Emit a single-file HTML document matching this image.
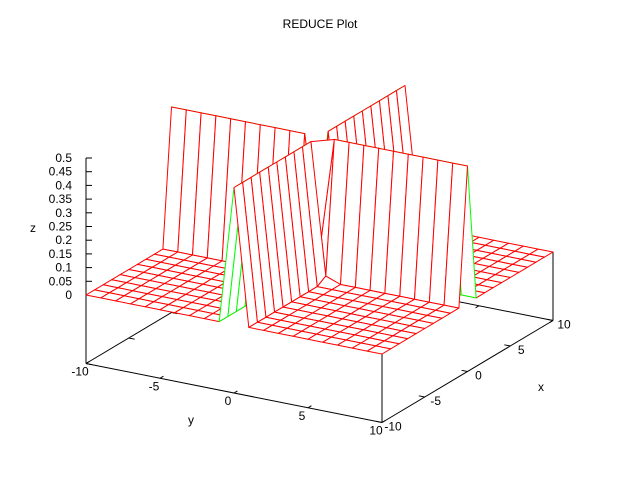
<!DOCTYPE html>
<html><head><meta charset="utf-8"><style>
html,body{margin:0;padding:0;background:#fff;}
svg{display:block;font-family:"Liberation Sans",sans-serif;font-size:12px;}
</style></head><body>
<svg id="chart" width="640" height="480" viewBox="0 0 640 480" xmlns="http://www.w3.org/2000/svg">
<rect width="640" height="480" fill="#fff"/>
<text x="320" y="28" text-anchor="middle" font-size="12">REDUCE Plot</text>
<g id="axes"></g>
<g id="surface"></g>
<g id="labels"></g>
</svg>
<script>
var xTicks = [-10, -5, 0, 5, 10];
var yTicks = [-10, -5, 0, 5, 10];
var zTicks = [0, 0.05, 0.1, 0.15, 0.2, 0.25, 0.3, 0.35, 0.4, 0.45, 0.5];
var zTickLabels = ["0","0.05","0.1","0.15","0.2","0.25","0.3","0.35","0.4","0.45","0.5"];
var gridN = 21;
var zGrid = [
[0,0,0,0,0,0,0,0,0,0,.5,0,0,0,0,0,0,0,0,0,0],
[0,0,0,0,0,0,0,0,0,0,.5,0,0,0,0,0,0,0,0,0,0],
[0,0,0,0,0,0,0,0,0,0,.5,0,0,0,0,0,0,0,0,0,0],
[0,0,0,0,0,0,0,0,0,0,.5,0,0,0,0,0,0,0,0,0,0],
[0,0,0,0,0,0,0,0,0,0,.5,0,0,0,0,0,0,0,0,0,0],
[0,0,0,0,0,0,0,0,0,0,.5,0,0,0,0,0,0,0,0,0,0],
[0,0,0,0,0,0,0,0,0,0,.5,0,0,0,0,0,0,0,0,0,0],
[0,0,0,0,0,0,0,0,0,0,.5,0,0,0,0,0,0,0,0,0,0],
[0,0,0,0,0,0,0,0,0,0,.5,0,0,0,0,0,0,0,0,0,0],
[0,0,0,0,0,0,0,0,0,.02,.5,.02,0,0,0,0,0,0,0,0,0],
[.5,.5,.5,.5,.5,.5,.5,.5,.5,.5,.08,.5,.5,.5,.5,.5,.5,.5,.5,.5,.5],
[0,0,0,0,0,0,0,0,0,.02,.5,.02,0,0,0,0,0,0,0,0,0],
[0,0,0,0,0,0,0,0,0,0,.5,0,0,0,0,0,0,0,0,0,0],
[0,0,0,0,0,0,0,0,0,0,.5,0,0,0,0,0,0,0,0,0,0],
[0,0,0,0,0,0,0,0,0,0,.5,0,0,0,0,0,0,0,0,0,0],
[0,0,0,0,0,0,0,0,0,0,.5,0,0,0,0,0,0,0,0,0,0],
[0,0,0,0,0,0,0,0,0,0,.5,0,0,0,0,0,0,0,0,0,0],
[0,0,0,0,0,0,0,0,0,0,.5,0,0,0,0,0,0,0,0,0,0],
[0,0,0,0,0,0,0,0,0,0,.5,0,0,0,0,0,0,0,0,0,0],
[0,0,0,0,0,0,0,0,0,0,.5,0,0,0,0,0,0,0,0,0,0],
[0,0,0,0,0,0,0,0,0,0,.5,0,0,0,0,0,0,0,0,0,0]
];
var NS = "http://www.w3.org/2000/svg";
var zBase = -0.25;
function proj(x, y, z) {
  var u = (x + 10) / 20, v = (y + 10) / 20;
  return [86 + u * 171 + v * 296, 295 - u * 102 + v * 59 - z * 274];
}
function gv(i) { return -10 + 20 * i / (gridN - 1); }
function mk(tag, attrs, parent) {
  var e = document.createElementNS(NS, tag);
  for (var k in attrs) e.setAttribute(k, attrs[k]);
  parent.appendChild(e);
  return e;
}
var axes = document.getElementById('axes');
var surf = document.getElementById('surface');
var labs = document.getElementById('labels');
function line(p, q, parent, name, color) {
  var l = mk('line', {x1: p[0], y1: p[1], x2: q[0], y2: q[1], stroke: color || '#000', 'stroke-width': 1}, parent);
  
  
  return l;
}
function ptsStr(pts) { return pts.map(function (p) { return p[0].toFixed(1) + ',' + p[1].toFixed(1); }).join(' '); }
var c00 = proj(-10, -10, zBase), c10 = proj(10, -10, zBase), c11 = proj(10, 10, zBase), c01 = proj(-10, 10, zBase);
line(c00, c10, axes, 'base-back-left-edge');
line(c10, c11, axes, 'base-back-right-edge');
line(c00, c01, axes, 'y-axis-line');
line(c01, c11, axes, 'x-axis-line');
line(c00, proj(-10, -10, 0.5), axes, 'z-axis-line');
line(c01, proj(-10, 10, 0), axes, 'front-vertical-edge');
line(c11, proj(10, 10, 0), axes, 'right-vertical-edge');
zTicks.forEach(function (t, k) {
  var p = proj(-10, -10, t);
  line(p, [p[0] + 6, p[1]], axes, 'z-tick');
  var tx = mk('text', {x: p[0] - 14, y: p[1] + 4, 'text-anchor': 'end'}, labs);
  tx.textContent = zTickLabels[k];
  
  
});
yTicks.forEach(function (t) {
  var p = proj(-10, t, zBase), q = proj(-9.6, t, zBase);
  line(p, q, axes, 'y-tick');
  var p2 = proj(10, t, zBase), q2 = proj(9.6, t, zBase);
  line(p2, q2, axes, 'y-tick-back');
  var tx = mk('text', {x: p[0] - 6, y: p[1] + 12, 'text-anchor': 'middle'}, labs);
  tx.textContent = String(t);
  
  
});
xTicks.forEach(function (t) {
  var p = proj(t, 10, zBase), q = proj(t, 9.6, zBase);
  line(p, q, axes, 'x-tick');
  var p2 = proj(t, -10, zBase), q2 = proj(t, -9.6, zBase);
  line(p2, q2, axes, 'x-tick-back');
  var tx = mk('text', {x: p[0] + 11, y: p[1] + 8, 'text-anchor': 'middle'}, labs);
  tx.textContent = String(t);
  
  
});
var xl = mk('text', {x: 541, y: 391, 'text-anchor': 'middle'}, labs); xl.textContent = 'x';


var yl = mk('text', {x: 191, y: 424, 'text-anchor': 'middle'}, labs); yl.textContent = 'y';


var zl = mk('text', {x: 33, y: 232, 'text-anchor': 'middle'}, labs); zl.textContent = 'z';


var cells = [];
for (var i = 0; i < gridN - 1; i++) for (var j = 0; j < gridN - 1; j++) {
  var xc = (gv(i) + gv(i + 1)) / 2, yc = (gv(j) + gv(j + 1)) / 2;
  cells.push({i: i, j: j, d: 5.1 * xc - 2.95 * yc});
}
cells.sort(function (a, b) { return b.d - a.d; });
var mid = (gridN - 1) / 2;
cells.forEach(function (c) {
  var i = c.i, j = c.j;
  var a = proj(gv(i), gv(j), zGrid[i][j]);
  var b = proj(gv(i + 1), gv(j), zGrid[i + 1][j]);
  var d = proj(gv(i + 1), gv(j + 1), zGrid[i + 1][j + 1]);
  var e = proj(gv(i), gv(j + 1), zGrid[i][j + 1]);
  var pts = [a, b, d, e];
  var area = 0;
  for (var k = 0; k < 4; k++) { var p = pts[k], q = pts[(k + 1) % 4]; area += p[0] * q[1] - q[0] * p[1]; }
  var col = area < 0 ? '#00ff00' : '#ff0000';
  var poly = mk('polygon', {points: ptsStr(pts), fill: '#fff', stroke: col, 'stroke-width': 1, 'stroke-linejoin': 'round'}, surf);
  
  
  if (i === mid - 1 && j === mid) {
    // triangulated top of the centre cell (ridge junction)
    var tri = mk('polygon', {points: ptsStr([a, b, d]), fill: '#fff', stroke: 'none'}, surf);
    
    
    line(a, d, surf, 'centre-junction-edge', '#ff0000');
    line(a, b, surf, 'centre-edge', '#ff0000');
    line(d, b, surf, 'centre-edge', '#ff0000');
  }
});
</script>
</body></html>
